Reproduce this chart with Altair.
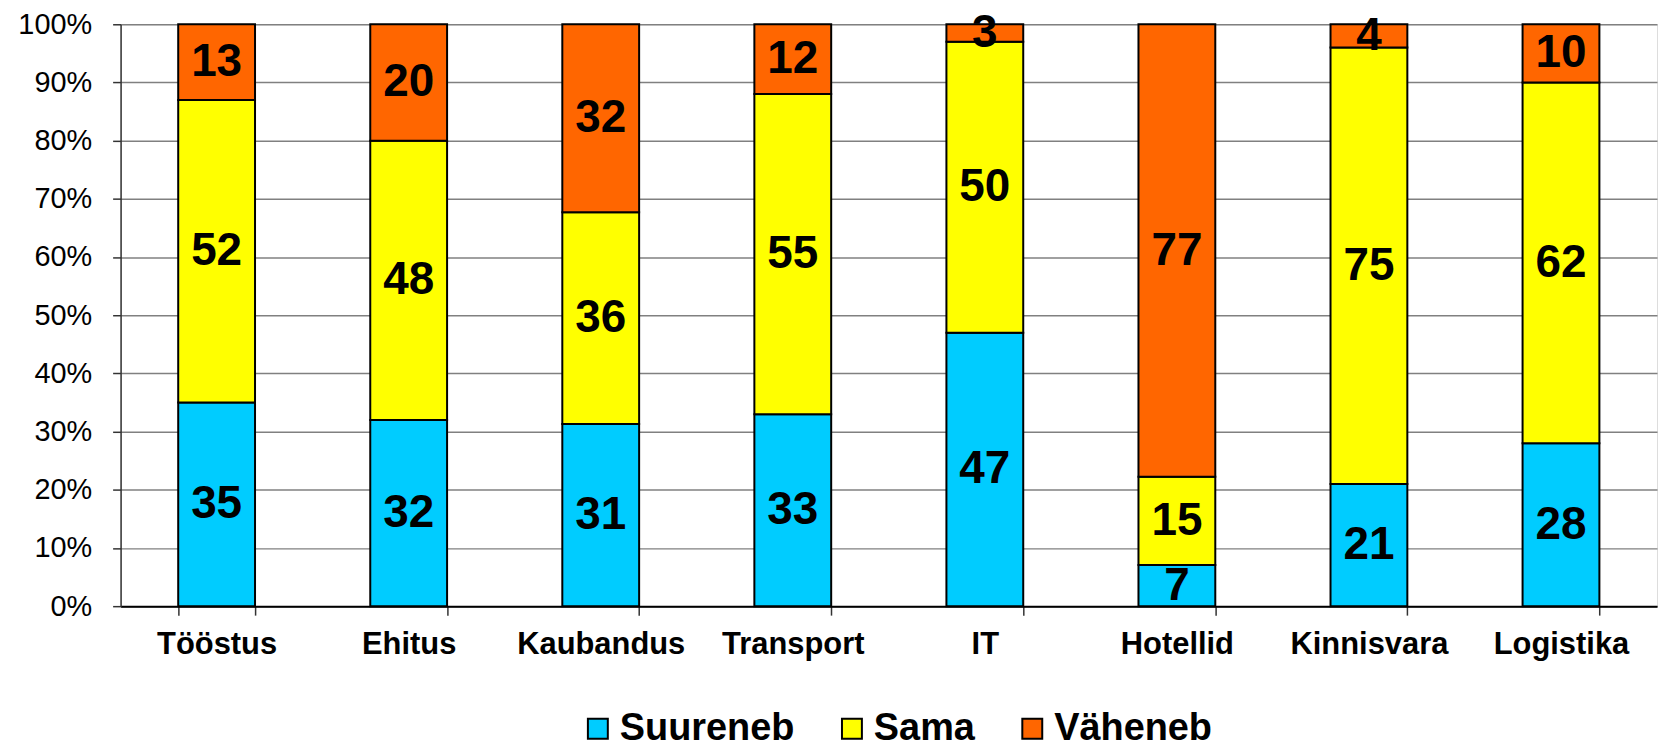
import altair as alt
import pandas as pd

categories = ["Tööstus", "Ehitus", "Kaubandus", "Transport", "IT", "Hotellid", "Kinnisvara", "Logistika"]
series = ["Suureneb", "Sama", "Väheneb"]
suureneb = [35, 32, 31, 33, 47, 7, 21, 28]
sama = [52, 48, 36, 55, 50, 15, 75, 62]
vaheneb = [13, 20, 32, 12, 3, 77, 4, 10]
colors = ["#00CCFF", "#FFFF00", "#FF6600"]
y_ticks = [i / 10 for i in range(11)]

rows = []
for i, c in enumerate(categories):
    for k, (s, vals) in enumerate(zip(series, [suureneb, sama, vaheneb])):
        rows.append({"cat": c, "series": s, "order": k, "value": vals[i]})
df = pd.DataFrame(rows)

FONT = "Liberation Sans"

base = alt.Chart(df).transform_stack(
    stack="value", groupby=["cat"], as_=["v0", "v1"], offset="normalize",
    sort=[alt.SortField("order", order="ascending")]
).transform_calculate(mid="(datum.v0 + datum.v1) / 2")

xenc = alt.X(
    "cat:N", sort=categories,
    scale=alt.Scale(paddingInner=0.6, paddingOuter=0.3),
    axis=alt.Axis(
        title=None, labelAngle=0, labelFont=FONT, labelFontWeight="bold",
        labelFontSize=31, labelColor="black", tickBand="extent", tickSize=9,
        tickColor="#333333", tickWidth=1.5, domainColor="black", domainWidth=2,
        labelPadding=15, grid=False,
    ),
)

bars = base.mark_bar(stroke="black", strokeWidth=2).encode(
    x=xenc,
    y=alt.Y(
        "v0:Q", scale=alt.Scale(domain=[0, 1]),
        axis=alt.Axis(
            title=None, format="%", values=y_ticks, labelFont=FONT,
            labelFontSize=29, labelColor="black", tickSize=8,
            tickColor="#333333", tickWidth=1.5, domainColor="#333333",
            domainWidth=1.5, gridColor="#808080", gridWidth=1.5,
            labelPadding=21,
        ),
    ),
    y2="v1:Q",
    color=alt.Color(
        "series:N", scale=alt.Scale(domain=series, range=colors),
        legend=alt.Legend(
            title=None, orient="none", legendX=460, legendY=688,
            direction="horizontal", symbolType="square", symbolSize=400,
            symbolStrokeColor="black", symbolStrokeWidth=2,
            labelFont=FONT, labelFontSize=38, labelFontWeight="bold",
            labelColor="black", columnPadding=38, labelOffset=3,
            labelLimit=0,
        ),
    ),
)

text = base.mark_text(
    font=FONT, fontSize=46, fontWeight="bold", color="black", baseline="middle"
).encode(
    x=alt.X("cat:N", sort=categories),
    y=alt.Y("mid:Q"),
    text=alt.Text("value:Q"),
)

chart = alt.layer(bars, text).properties(
    width=1542, height=584,
    autosize=alt.AutoSizeParams(type="none"),
    padding={"left": 113, "top": 15, "right": 2, "bottom": 138},
).configure_view(stroke="#808080", strokeWidth=2).configure(background="white")

chart.save("out.html", embed_options={"renderer": "svg", "actions": False})
